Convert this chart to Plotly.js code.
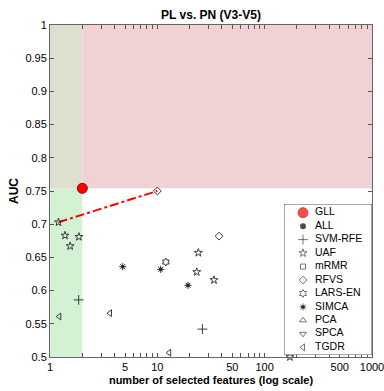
<!DOCTYPE html>
<html>
<head>
<meta charset="utf-8">
<script src="https://cdn.plot.ly/plotly-3.0.1.min.js"></script>
<style>html,body{margin:0;padding:0;background:#fff;}#chart{width:384px;height:391px;}</style>
</head>
<body>
<div id="chart"></div>
<script>
// ---- data ----
const gllX = [2];        const gllY = [0.754];
const allX = [];         const allY = [];
const svmX = [1.85, 26.3];            const svmY = [0.586, 0.542];
const uafX = [1.2, 1.38, 1.54, 1.86, 24.1, 23.3, 33.7, 172];
const uafY = [0.703, 0.683, 0.667, 0.681, 0.657, 0.628, 0.616, 0.500];
const mrmrX = [];        const mrmrY = [];
const rfvsX = [10, 37.6];             const rfvsY = [0.750, 0.682];
const larsX = [12];      const larsY = [0.643];
const simcaX = [4.76, 10.75, 19.3];   const simcaY = [0.636, 0.632, 0.608];
const pcaX = [];         const pcaY = [];
const spcaX = [];        const spcaY = [];
const tgdrX = [1.22, 3.62, 12.9];     const tgdrY = [0.561, 0.566, 0.5065];
const linkX = [1.2, 10]; const linkY = [0.703, 0.750];

const legendNames = ['GLL','ALL','SVM-RFE','UAF','mRMR','RFVS','LARS-EN','SIMCA','PCA','SPCA','TGDR'];
const xTickVals = [1, 5, 10, 50, 100, 500, 1000];
const xTickText = ['1', '5', '10', '50', '100', '500', '1000'];
const xMinorVals = [2,3,4,6,7,8,9,20,30,40,60,70,80,90,200,300,400,600,700,800,900];
const yTickVals = [0.5,0.55,0.6,0.65,0.7,0.75,0.8,0.85,0.9,0.95,1];
const yTickText = ['0.5','0.55','0.6','0.65','0.7','0.75','0.8','0.85','0.9','0.95','1'];

// ---- styles ----
const FONT = 'Liberation Sans, Arial, Helvetica, sans-serif';
const MC = '#3a3a3a';
const styles = {
  GLL:     {symbol:'circle', size:10, color:'#ff0000', line:{color:'#900', width:1}},
  ALL:     {symbol:'circle', size:6, color:'#000', line:{color:'#000', width:0}},
  'SVM-RFE':{symbol:'cross-thin-open', size:7, color:MC, line:{color:MC, width:1}},
  UAF:     {symbol:'star-open', size:6, color:MC, line:{color:MC, width:1}},
  mRMR:    {symbol:'square-open', size:5, color:MC, line:{color:MC, width:1}},
  RFVS:    {symbol:'diamond-open', size:6, color:MC, line:{color:MC, width:1}},
  'LARS-EN':{symbol:'hexagram-open', size:6, color:MC, line:{color:MC, width:1}},
  SIMCA:   {symbol:'asterisk-open', size:6, color:MC, line:{color:MC, width:1}},
  PCA:     {symbol:'triangle-up-open', size:6, color:MC, line:{color:MC, width:1}},
  SPCA:    {symbol:'triangle-down-open', size:6, color:MC, line:{color:MC, width:1}},
  TGDR:    {symbol:'triangle-left-open', size:6, color:MC, line:{color:MC, width:1}}
};
function mk(name){ const s = styles[name]; return {symbol:s.symbol, size:s.size, color:s.color, line:s.line}; }

const series = [
  ['SVM-RFE', svmX, svmY], ['UAF', uafX, uafY], ['mRMR', mrmrX, mrmrY],
  ['RFVS', rfvsX, rfvsY], ['LARS-EN', larsX, larsY], ['SIMCA', simcaX, simcaY],
  ['PCA', pcaX, pcaY], ['SPCA', spcaX, spcaY], ['TGDR', tgdrX, tgdrY], ['ALL', allX, allY]
];

const traces = [];
traces.push({x:linkX, y:linkY, mode:'lines', line:{color:'#ff0000', width:2, dash:'dashdot'}, showlegend:false, hoverinfo:'skip'});
series.forEach(([n, xs, ys]) => {
  traces.push({x:xs, y:ys, mode:'markers', marker:mk(n), name:n, showlegend:false, cliponaxis:false});
});
traces.push({x:simcaX, y:simcaY, mode:'markers', marker:{symbol:'circle', size:3.5, color:'#222'}, showlegend:false});
traces.push({x:gllX, y:gllY, mode:'markers', marker:mk('GLL'), name:'GLL', showlegend:false});

// ---- custom legend (own small subplot inside the plot) ----
const LW = 88, LH = 151, rowH = 13.46, row0 = 8.7;
const legY = legendNames.map((n, i) => row0 + rowH * i);
traces.push({x:[0, LW, LW, 0, 0], y:[0, 0, LH, LH, 0], xaxis:'x2', yaxis:'y2', mode:'lines', fill:'toself',
  fillcolor:'#ffffff', line:{color:'#555', width:1}, showlegend:false, hoverinfo:'skip'});
traces.push({x:legendNames.map(() => 19), y:legY, xaxis:'x2', yaxis:'y2', mode:'markers',
  marker:{symbol:legendNames.map(n => styles[n].symbol), size:legendNames.map(n => styles[n].size),
          color:legendNames.map(n => styles[n].color),
          line:{color:legendNames.map(n => styles[n].line.color), width:legendNames.map(n => styles[n].line.width)}},
  showlegend:false, hoverinfo:'skip'});
traces.push({x:[19], y:[legY[legendNames.indexOf('SIMCA')]], xaxis:'x2', yaxis:'y2', mode:'markers',
  marker:{symbol:'circle', size:3.5, color:'#222'}, showlegend:false, hoverinfo:'skip'});
traces.push({x:legendNames.map(() => 31), y:legY, xaxis:'x2', yaxis:'y2', mode:'text', text:legendNames,
  textposition:'middle right', textfont:{family:FONT, size:10.5, color:'#000'}, showlegend:false, hoverinfo:'skip'});

const shapes = [
  {type:'rect', xref:'x', yref:'y', x0:1, x1:gllX[0], y0:0.5, y1:gllY[0], fillcolor:'#d3f1d3', line:{width:0}, layer:'below'},
  {type:'rect', xref:'x', yref:'y', x0:gllX[0], x1:1000, y0:gllY[0], y1:1, fillcolor:'#f0d1d4', line:{width:0}, layer:'below'},
  {type:'rect', xref:'x', yref:'y', x0:1, x1:gllX[0], y0:gllY[0], y1:1, fillcolor:'#dfdfd0', line:{width:0}, layer:'below'}
];

const layout = {
  width:384, height:391,
  margin:{l:50, r:12, t:25, b:34},
  paper_bgcolor:'#fff', plot_bgcolor:'#fff',
  font:{family:FONT, size:11, color:'#000'},
  showlegend:false,
  title:{text:'<b>PL vs. PN (V3-V5)</b>', font:{family:FONT, size:12, color:'#000'}, xref:'paper', x:0.5, xanchor:'center', yref:'container', y:0.962, yanchor:'middle'},
  xaxis:{type:'log', range:[-0.00001, 3.00001], tickmode:'array', tickvals:xTickVals, ticktext:xTickText,
    ticks:'inside', ticklen:4, tickcolor:'#555', tickwidth:1, showline:true, linecolor:'#666', linewidth:1, mirror:'ticks',
    showgrid:false, zeroline:false, tickfont:{family:FONT, size:11}, ticklabeloverflow:'allow',
    minor:{tickmode:'array', tickvals:xMinorVals, ticks:'inside', ticklen:4, tickcolor:'#555', showgrid:false},
    title:{text:'<b>number of selected features (log scale)</b>', font:{family:FONT, size:11}, standoff:4}},
  yaxis:{range:[0.5, 1], tickmode:'array', tickvals:yTickVals, ticktext:yTickText,
    ticks:'inside', ticklen:4, tickcolor:'#555', tickwidth:1, showline:true, linecolor:'#666', linewidth:1, mirror:'ticks',
    showgrid:false, zeroline:false, tickfont:{family:FONT, size:11},
    title:{text:'<b>AUC</b>', font:{family:FONT, size:12}, standoff:4}},
  xaxis2:{domain:[(284-50)/322, 1], range:[0, LW], visible:false, fixedrange:true},
  yaxis2:{domain:[(357-355)/332, (357-204)/332], range:[LH, 0], visible:false, fixedrange:true},
  shapes:shapes
};

Plotly.newPlot('chart', traces, layout, {displayModeBar:false, staticPlot:true});
</script>
</body>
</html>
